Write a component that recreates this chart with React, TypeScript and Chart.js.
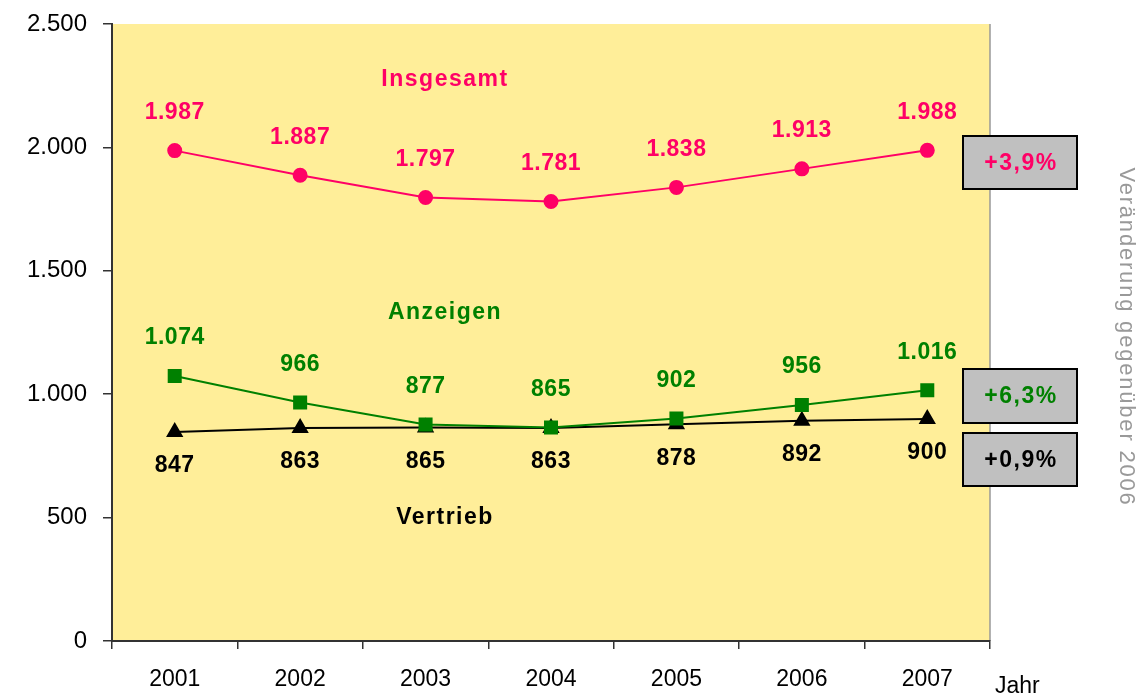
import React, { useEffect, useRef } from "react";
import { Chart, registerables } from "chart.js";

Chart.register(...registerables);

const years = ["2001", "2002", "2003", "2004", "2005", "2006", "2007"];
const insgesamt = [1987, 1887, 1797, 1781, 1838, 1913, 1988];
const anzeigen = [1074, 966, 877, 865, 902, 956, 1016];
const vertrieb = [847, 863, 865, 863, 878, 892, 900];
const seriesNames = ["Insgesamt", "Anzeigen", "Vertrieb"];
const changes = ["+3,9%", "+6,3%", "+0,9%"];
const yTicks = [0, 500, 1000, 1500, 2000, 2500];

const PINK = "#FF0066";
const GREEN = "#008000";
const BLACK = "#000000";
const FONT = "'Liberation Sans', Arial, Helvetica, sans-serif";

const fmt = (v: number) => v.toLocaleString("de-DE");

const decorPlugin = {
  id: "decor",
  beforeDraw(chart: any) {
    const { ctx, chartArea: a } = chart;
    ctx.save();
    ctx.fillStyle = "#FFEE99";
    ctx.fillRect(a.left, a.top, a.right - a.left, a.bottom - a.top);
    ctx.strokeStyle = "#999999";
    ctx.lineWidth = 1.5;
    ctx.beginPath();
    ctx.moveTo(a.right, a.top);
    ctx.lineTo(a.right, a.bottom);
    ctx.stroke();
    ctx.restore();
  },
  afterDraw(chart: any) {
    const { ctx } = chart;
    ctx.save();
    ctx.textAlign = "center";
    ctx.textBaseline = "middle";
    const offsets = [-38, -38, 34];
    const colors = [PINK, GREEN, BLACK];
    // data labels
    ctx.font = `bold 23px ${FONT}`;
    (ctx as any).letterSpacing = "0.5px";
    chart.data.datasets.forEach((ds: any, i: number) => {
      const meta = chart.getDatasetMeta(i);
      meta.data.forEach((pt: any, j: number) => {
        ctx.fillStyle = colors[i];
        ctx.fillText(fmt(ds.data[j]), pt.x, pt.y + offsets[i]);
      });
    });
    // series names
    (ctx as any).letterSpacing = "1.5px";
    const nameY = [80, 313, 518];
    seriesNames.forEach((n, i) => {
      ctx.fillStyle = colors[i];
      ctx.fillText(n, 445, nameY[i]);
    });
    // change boxes
    const boxes = [
      [963, 136, 114, 53],
      [963, 369, 114, 54],
      [963, 433, 114, 53],
    ];
    boxes.forEach((b, i) => {
      ctx.fillStyle = "#C0C0C0";
      ctx.fillRect(b[0], b[1], b[2], b[3]);
      ctx.strokeStyle = "#000";
      ctx.lineWidth = 2;
      ctx.strokeRect(b[0], b[1], b[2], b[3]);
      ctx.fillStyle = colors[i];
      ctx.font = `bold 23px ${FONT}`;
      ctx.fillText(changes[i], b[0] + b[2] / 2 + 1, b[1] + b[3] / 2 + 1);
    });
    // rotated caption
    ctx.save();
    ctx.translate(1126, 337);
    ctx.rotate(Math.PI / 2);
    ctx.fillStyle = "#999999";
    ctx.font = `22px ${FONT}`;
    (ctx as any).letterSpacing = "1.8px";
    ctx.fillText("Veränderung gegenüber 2006", 0, 0);
    ctx.restore();
    // x axis title
    (ctx as any).letterSpacing = "0px";
    ctx.fillStyle = "#000";
    ctx.font = `23px ${FONT}`;
    ctx.textAlign = "left";
    ctx.fillText("Jahr", 995, 687);
    ctx.restore();
  },
};

export default function App() {
  const ref = useRef<HTMLCanvasElement>(null);
  useEffect(() => {
    if (!ref.current) return;
    const chart = new Chart(ref.current, {
      type: "line",
      data: {
        labels: years,
        datasets: [
          {
            label: seriesNames[0],
            data: insgesamt,
            borderColor: PINK,
            backgroundColor: PINK,
            borderWidth: 2,
            pointStyle: "circle",
            pointRadius: 6.5,
          },
          {
            label: seriesNames[1],
            data: anzeigen,
            borderColor: GREEN,
            backgroundColor: GREEN,
            borderWidth: 2,
            pointStyle: "rect",
            pointRadius: 8.5,
          },
          {
            label: seriesNames[2],
            data: vertrieb,
            borderColor: BLACK,
            backgroundColor: BLACK,
            borderWidth: 2,
            pointStyle: "triangle",
            pointRadius: 8,
          },
        ],
      },
      plugins: [decorPlugin],
      options: {
        responsive: false,
        animation: false,
        devicePixelRatio: 1,
        layout: { padding: { left: 0, top: 24, right: 151, bottom: 0 } },
        plugins: { legend: { display: false }, tooltip: { enabled: false } },
        elements: { line: { tension: 0 } },
        scales: {
          x: {
            offset: true,
            grid: {
              offset: true,
              drawOnChartArea: false,
              drawTicks: true,
              tickLength: 8,
              color: "#333",
              lineWidth: 1.5,
            },
            border: { color: "#333", width: 2 },
            ticks: {
              color: "#000",
              font: { family: FONT, size: 23 },
              padding: 17,
              maxRotation: 0,
            },
            afterFit(scale: any) {
              scale.height = 57;
              scale.paddingLeft = 0;
              scale.paddingRight = 0;
            },
          },
          y: {
            min: 0,
            max: 2500,
            afterBuildTicks(scale: any) {
              scale.ticks = yTicks.map((v) => ({ value: v }));
            },
            grid: {
              drawOnChartArea: false,
              drawTicks: true,
              tickLength: 9,
              color: "#333",
              lineWidth: 1.5,
            },
            border: { color: "#333", width: 2 },
            ticks: {
              color: "#000",
              font: { family: FONT, size: 24 },
              padding: 16,
              callback: (v: any) => fmt(Number(v)),
            },
            afterFit(scale: any) {
              scale.width = 112;
              scale.paddingTop = 0;
              scale.paddingBottom = 0;
            },
          },
        },
      },
    } as any);
    return () => chart.destroy();
  }, []);
  return (
    <div style={{ position: "fixed", left: 0, top: 0, width: 1141, height: 698, background: "#fff" }}>
      <canvas ref={ref} width={1141} height={698} />
    </div>
  );
}
